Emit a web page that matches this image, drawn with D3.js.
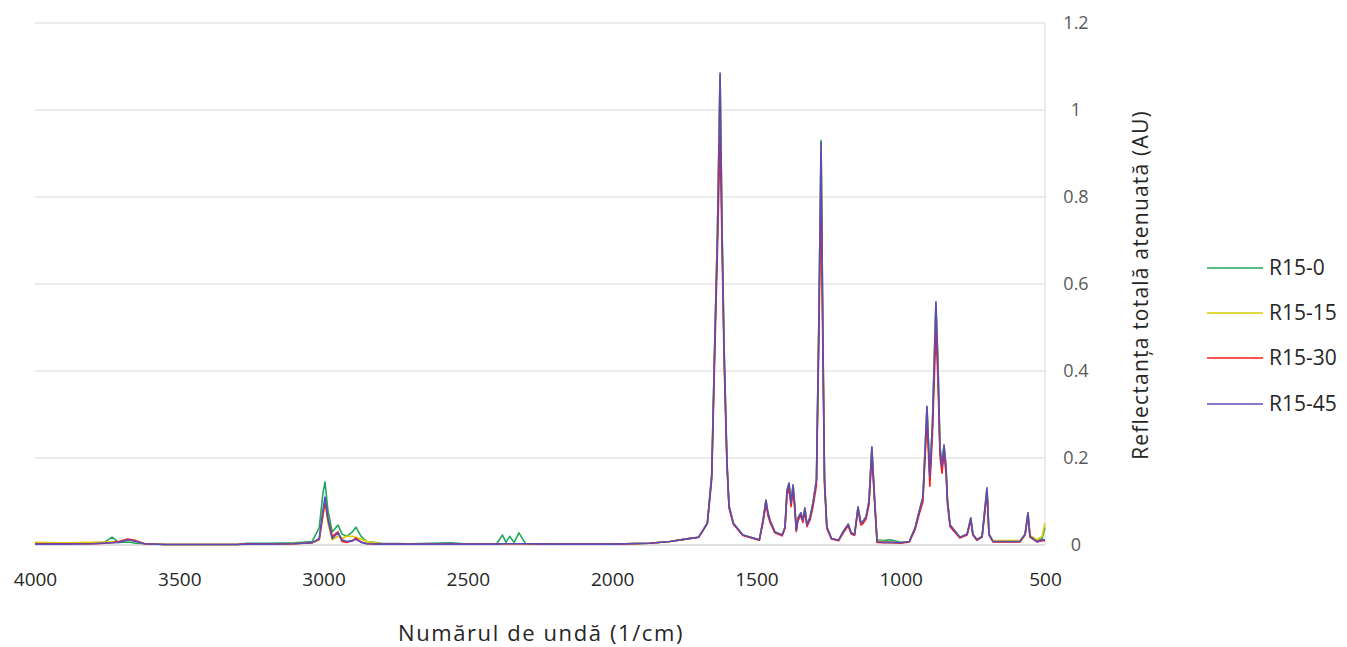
<!DOCTYPE html>
<html><head><meta charset="utf-8">
<script src="https://cdn.jsdelivr.net/npm/d3@7"></script>
<style>body{margin:0;background:#fff}svg{display:block}text{font-family:"Open Sans",sans-serif}</style>
</head><body><svg id="c" width="1347" height="647"></svg>
<script>
const wavenumbers = [4000,3900,3800,3760,3733,3710,3678,3650,3620,3550,3300,3265,3200,3100,3040,3015,3002,2995,2985,2970,2950,2936,2920,2900,2888,2870,2850,2800,2700,2560,2500,2400,2380,2368,2355,2340,2323,2300,2200,2000,1870,1800,1740,1700,1670,1655,1645,1635,1626,1619,1612,1602,1595,1580,1547,1490,1477,1467,1460,1453,1436,1411,1401,1394,1387,1380,1373,1367,1362,1356,1346,1339,1332,1325,1314,1304,1292,1284,1276,1270,1264,1256,1240,1215,1200,1182,1172,1160,1148,1138,1130,1120,1110,1100,1090,1082,1060,1037,1000,970,950,935,923,909,899,890,878,871,864,857,850,843,838,829,795,770,757,750,736,718,701,694,680,587,569,559,552,528,510,500];
const seriesNames = ["R15-0","R15-15","R15-30","R15-45"];
const r15_0  = [0.004,0.004,0.005,0.006,0.018,0.006,0.007,0.004,0.003,0.001,0.001,0.004,0.004,0.005,0.008,0.040,0.120,0.145,0.080,0.030,0.046,0.025,0.020,0.030,0.041,0.020,0.008,0.004,0.003,0.005,0.002,0.003,0.023,0.006,0.020,0.006,0.028,0.003,0.002,0.002,0.004,0.008,0.014,0.018,0.050,0.160,0.450,0.720,1.080,0.720,0.450,0.190,0.090,0.050,0.023,0.012,0.057,0.103,0.074,0.057,0.030,0.023,0.041,0.126,0.142,0.097,0.138,0.090,0.034,0.062,0.074,0.057,0.085,0.046,0.064,0.097,0.150,0.500,0.930,0.500,0.150,0.041,0.015,0.011,0.030,0.048,0.028,0.024,0.087,0.050,0.055,0.065,0.100,0.225,0.100,0.012,0.010,0.012,0.006,0.008,0.040,0.080,0.110,0.318,0.157,0.280,0.555,0.418,0.225,0.180,0.230,0.180,0.103,0.046,0.018,0.025,0.062,0.025,0.012,0.020,0.131,0.025,0.008,0.008,0.025,0.074,0.020,0.008,0.015,0.040];
const r15_15 = [0.006,0.005,0.006,0.006,0.008,0.007,0.012,0.008,0.003,0.001,0.001,0.002,0.002,0.003,0.005,0.012,0.070,0.100,0.050,0.012,0.020,0.015,0.020,0.020,0.018,0.014,0.008,0.003,0.002,0.002,0.002,0.002,0.003,0.003,0.003,0.003,0.003,0.003,0.002,0.002,0.004,0.008,0.014,0.018,0.050,0.160,0.450,0.720,1.080,0.720,0.450,0.190,0.090,0.050,0.023,0.012,0.057,0.103,0.074,0.057,0.030,0.023,0.041,0.126,0.142,0.097,0.138,0.090,0.034,0.062,0.074,0.057,0.085,0.046,0.064,0.097,0.150,0.500,0.920,0.500,0.150,0.041,0.015,0.011,0.030,0.048,0.028,0.024,0.087,0.050,0.055,0.065,0.100,0.222,0.100,0.010,0.008,0.006,0.005,0.008,0.040,0.080,0.110,0.315,0.155,0.278,0.550,0.418,0.225,0.180,0.230,0.180,0.103,0.046,0.018,0.025,0.062,0.025,0.012,0.020,0.131,0.025,0.010,0.010,0.025,0.074,0.022,0.012,0.020,0.050];
const r15_30 = [0.003,0.003,0.003,0.004,0.005,0.008,0.014,0.010,0.003,0.001,0.001,0.003,0.002,0.003,0.005,0.013,0.070,0.100,0.060,0.020,0.030,0.008,0.006,0.010,0.016,0.007,0.003,0.002,0.002,0.002,0.002,0.002,0.003,0.003,0.003,0.003,0.003,0.003,0.002,0.002,0.004,0.008,0.014,0.018,0.050,0.150,0.420,0.680,0.940,0.680,0.420,0.180,0.085,0.048,0.022,0.011,0.052,0.095,0.068,0.052,0.028,0.021,0.038,0.115,0.130,0.088,0.126,0.082,0.031,0.056,0.068,0.052,0.078,0.042,0.058,0.088,0.137,0.460,0.830,0.460,0.137,0.038,0.014,0.010,0.027,0.044,0.026,0.022,0.080,0.046,0.050,0.060,0.092,0.205,0.092,0.006,0.005,0.006,0.004,0.007,0.036,0.073,0.100,0.290,0.135,0.255,0.494,0.380,0.205,0.165,0.210,0.165,0.094,0.042,0.016,0.023,0.057,0.023,0.011,0.018,0.120,0.023,0.007,0.007,0.023,0.068,0.018,0.007,0.010,0.010];
const r15_45 = [0.002,0.002,0.003,0.004,0.005,0.006,0.012,0.008,0.003,0.001,0.001,0.002,0.002,0.003,0.005,0.015,0.080,0.110,0.060,0.015,0.028,0.012,0.008,0.010,0.013,0.006,0.003,0.002,0.002,0.002,0.002,0.002,0.003,0.003,0.003,0.003,0.003,0.003,0.002,0.002,0.004,0.008,0.014,0.018,0.050,0.160,0.450,0.720,1.085,0.720,0.450,0.190,0.090,0.050,0.023,0.012,0.057,0.103,0.074,0.057,0.030,0.023,0.041,0.126,0.142,0.097,0.138,0.090,0.034,0.062,0.074,0.057,0.085,0.046,0.064,0.097,0.150,0.500,0.926,0.500,0.150,0.041,0.015,0.011,0.030,0.048,0.028,0.024,0.087,0.050,0.055,0.065,0.100,0.225,0.100,0.008,0.006,0.006,0.005,0.008,0.040,0.080,0.110,0.318,0.157,0.280,0.559,0.418,0.225,0.180,0.230,0.180,0.103,0.046,0.018,0.025,0.062,0.025,0.012,0.020,0.131,0.025,0.008,0.008,0.025,0.074,0.020,0.008,0.012,0.012];
const xTicks = [4000,3500,3000,2500,2000,1500,1000,500];
const yTicks = [0,0.2,0.4,0.6,0.8,1,1.2];
const colors = ["#1fa85a","#d9cc00","#ff1a1a","#5a4cbc"];

const svg = d3.select("#c");
const x = d3.scaleLinear().domain([4000,500]).range([35,1045]);
const y = d3.scaleLinear().domain([0,1.2]).range([545,23]);

// gridlines
svg.append("g").selectAll("line").data(yTicks.filter(d=>d>0)).join("line")
  .attr("x1",35).attr("x2",1045).attr("y1",d=>y(d)).attr("y2",d=>y(d))
  .attr("stroke","#d9d9d9").attr("stroke-width",1);
// right border
svg.append("line").attr("x1",1045).attr("x2",1045).attr("y1",y(1.2)).attr("y2",y(0))
  .attr("stroke","#d9d9d9");
// bottom axis line
svg.append("line").attr("x1",35).attr("x2",1045).attr("y1",y(0)).attr("y2",y(0))
  .attr("stroke","#bfbfbf");

// x axis labels
const xa = svg.append("g").attr("transform","translate(0,586)")
  .call(d3.axisBottom(x).tickValues(xTicks).tickSize(0).tickPadding(0).tickFormat(d3.format("d")));
xa.select(".domain").remove();
xa.selectAll("text").attr("font-size",19).attr("fill","#262626").attr("font-family","Open Sans").attr("dy","0");

// y axis labels on right
const ya = svg.append("g").attr("transform","translate(1076,0)")
  .call(d3.axisRight(y).tickValues(yTicks).tickSize(0).tickPadding(0).tickFormat(d=>String(d)));
ya.select(".domain").remove();
ya.selectAll("text").attr("font-size",18).attr("fill","#595959").attr("text-anchor","middle").attr("font-family","Open Sans");

// lines
const all = [r15_0,r15_15,r15_30,r15_45];
const line = d3.line().x((d,i)=>x(wavenumbers[i])).y(d=>y(d));
svg.append("g").selectAll("path").data(all).join("path")
  .attr("d",d=>line(d)).attr("fill","none")
  .attr("stroke",(d,i)=>colors[i]).attr("stroke-width",1.6).attr("stroke-linejoin","round");

// axis titles
svg.append("text").attr("x",541).attr("y",641).attr("text-anchor","middle")
  .attr("font-size",22).attr("letter-spacing",1.6).attr("fill","#262626").text("Numărul de undă (1/cm)");
svg.append("text").attr("transform","translate(1148,285) rotate(-90)").attr("text-anchor","middle")
  .attr("font-size",21).attr("letter-spacing",1.2).attr("fill","#262626").text("Reflectanța totală atenuată (AU)");

// legend
const lg = svg.append("g").selectAll("g").data(seriesNames).join("g")
  .attr("transform",(d,i)=>`translate(1207,${[268,313,358,404][i]})`);
lg.append("line").attr("x1",0).attr("x2",56).attr("stroke",(d,i)=>colors[i]).attr("stroke-width",1.6);
lg.append("text").attr("x",62).attr("dy","0.35em").attr("font-size",21).attr("fill","#262626").text(d=>d);
</script></body></html>
